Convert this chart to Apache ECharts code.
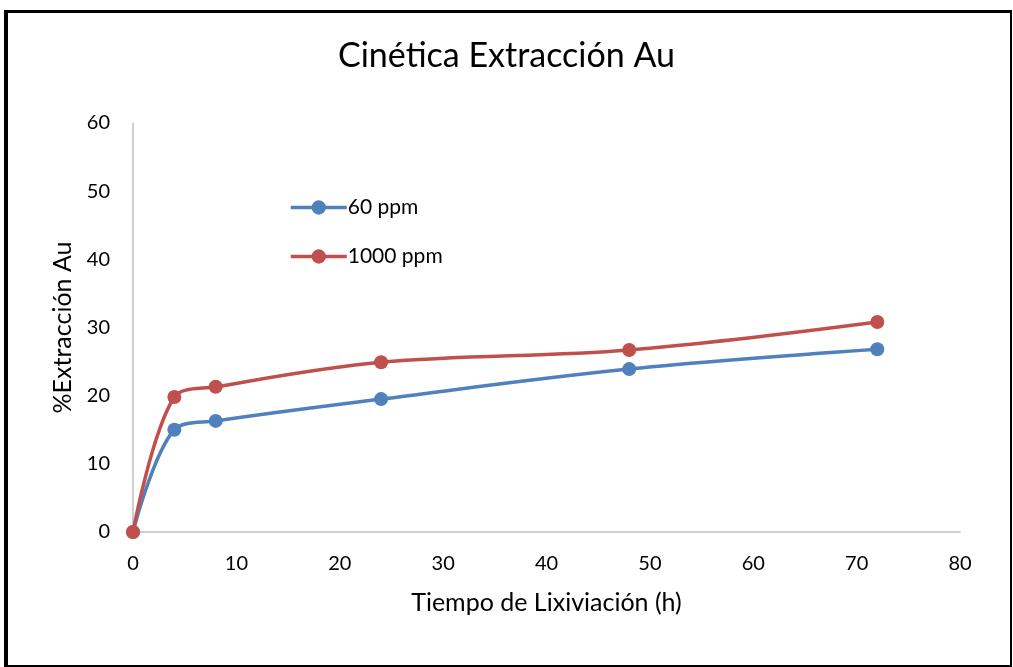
<!DOCTYPE html>
<html>
<head>
<meta charset="utf-8">
<title>Cinética Extracción Au</title>
<script src="https://cdn.jsdelivr.net/npm/echarts@6/dist/echarts.min.js"></script>
<style>
  html, body { margin: 0; padding: 0; background: #fff; }
  #wrap { position: relative; width: 1013px; height: 667px; }
  #chart { position: absolute; left: 0; top: 0; width: 1013px; height: 667px; }
  #frame {
    position: absolute; left: 4px; top: 10px; width: 1002px; height: 652px;
    border-left: 4px solid #000; border-top: 3px solid #000;
    border-right: 2px solid #000; border-bottom: 2px solid #000;
    pointer-events: none;
  }
</style>
</head>
<body>
<div id="wrap">
  <div id="chart"></div>
  <div id="frame"></div>
</div>
<script>
// Leaching time (h) and gold extraction (%) for each cyanide concentration
const hours = [0, 4, 8, 24, 48, 72];
const ext60ppm = [0, 15.0, 16.3, 19.5, 23.9, 26.8];
const ext1000ppm = [0, 19.8, 21.3, 24.9, 26.7, 30.8];
const seriesNames = ['60 ppm', '1000 ppm'];

const FONT = 'Lato, "Open Sans", sans-serif';

function pairs(xs, ys) {
  return xs.map((x, i) => [x, ys[i]]);
}

const chart = echarts.init(document.getElementById('chart'), null, { renderer: 'canvas' });

chart.setOption({
  backgroundColor: '#ffffff',
  animation: false,
  title: {
    text: 'Cinética Extracción Au',
    left: 'center',
    top: 34,
    textStyle: { fontFamily: FONT, fontSize: 34, fontWeight: 'normal', color: '#000' }
  },
  legend: {
    orient: 'vertical',
    left: 284,
    top: 192,
    itemWidth: 56,
    itemHeight: 18,
    itemGap: 28,
    lineStyle: { width: 3.5 },
    textStyle: { fontFamily: FONT, fontSize: 21, color: '#000', padding: [0, 0, 0, -4] },
    data: seriesNames
  },
  grid: { left: 133, right: 53, top: 123, bottom: 135 },
  xAxis: {
    type: 'value',
    min: 0, max: 80, interval: 10,
    name: 'Tiempo de Lixiviación (h)',
    nameLocation: 'middle',
    nameGap: 58,
    nameTextStyle: { fontFamily: FONT, fontSize: 25, color: '#000' },
    axisLine: { show: true, onZero: false, lineStyle: { color: '#BFBFBF', width: 1.5 } },
    axisTick: { show: false },
    splitLine: { show: false },
    axisLabel: { fontFamily: FONT, fontSize: 20, color: '#000', margin: 22 }
  },
  yAxis: {
    type: 'value',
    min: 0, max: 60, interval: 10,
    name: '%Extracción Au',
    nameLocation: 'middle',
    nameGap: 57,
    nameTextStyle: { fontFamily: FONT, fontSize: 25, color: '#000' },
    axisLine: { show: true, lineStyle: { color: '#BFBFBF', width: 1.5 } },
    axisTick: { show: false },
    splitLine: { show: false },
    axisLabel: { fontFamily: FONT, fontSize: 20, color: '#000', margin: 23 }
  },
  series: [
    {
      name: seriesNames[0],
      type: 'line',
      data: pairs(hours, ext60ppm),
      smooth: 0.35,
      symbol: 'circle',
      symbolSize: 14,
      lineStyle: { color: '#4F81BD', width: 3.5 },
      itemStyle: { color: '#4F81BD' },
      z: 2
    },
    {
      name: seriesNames[1],
      type: 'line',
      data: pairs(hours, ext1000ppm),
      smooth: 0.35,
      symbol: 'circle',
      symbolSize: 14,
      lineStyle: { color: '#C0504D', width: 3.5 },
      itemStyle: { color: '#C0504D' },
      z: 3
    }
  ]
});
</script>
</body>
</html>
